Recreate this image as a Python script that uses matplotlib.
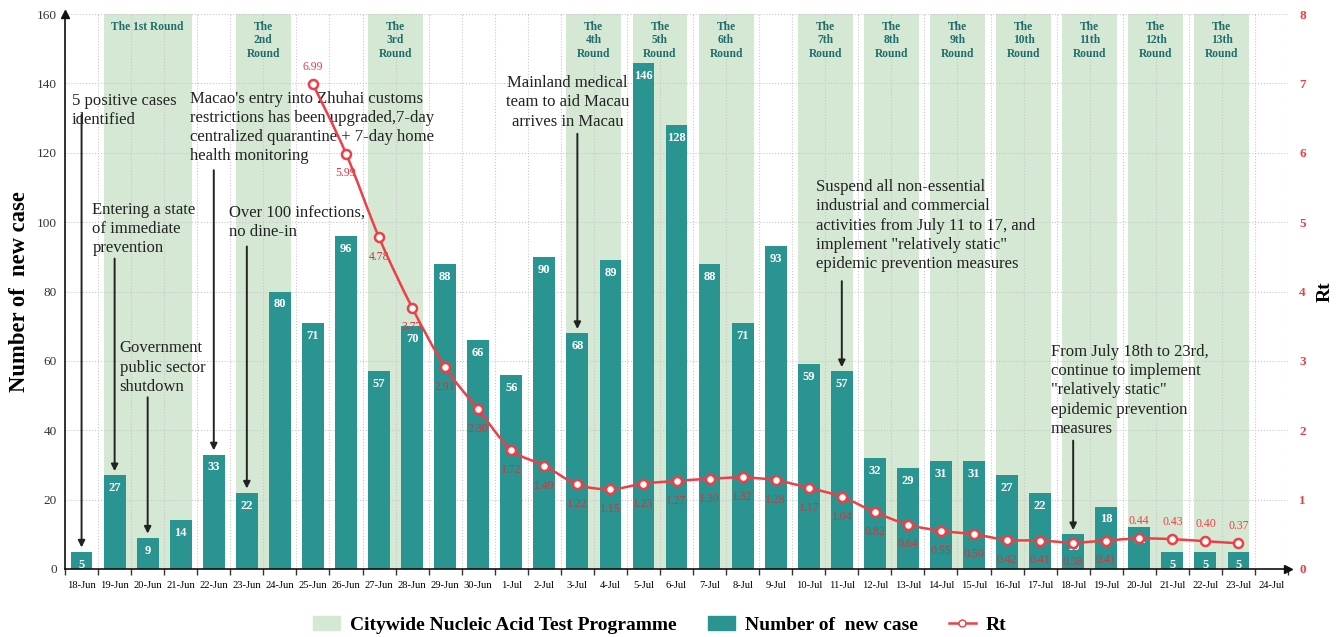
import matplotlib
matplotlib.use("Agg")
import matplotlib.pyplot as plt
import numpy as np
from matplotlib.patches import Patch, PathPatch
from matplotlib.lines import Line2D
from matplotlib.path import Path

plt.rcParams['font.family'] = ['Liberation Serif', 'DejaVu Serif']

# ---- data
dates = ['18-Jun', '19-Jun', '20-Jun', '21-Jun', '22-Jun', '23-Jun', '24-Jun', '25-Jun',
         '26-Jun', '27-Jun', '28-Jun', '29-Jun', '30-Jun', '1-Jul', '2-Jul', '3-Jul',
         '4-Jul', '5-Jul', '6-Jul', '7-Jul', '8-Jul', '9-Jul', '10-Jul', '11-Jul',
         '12-Jul', '13-Jul', '14-Jul', '15-Jul', '16-Jul', '17-Jul', '18-Jul', '19-Jul',
         '20-Jul', '21-Jul', '22-Jul', '23-Jul', '24-Jul']
new_cases = [5, 27, 9, 14, 33, 22, 80, 71, 96, 57, 70, 88, 66, 56, 90, 68, 89, 146, 128,
             88, 71, 93, 59, 57, 32, 29, 31, 31, 27, 22, 10, 18, 12, 5, 5, 5]
rt_dates = dates[7:36]
rt = [6.99, 5.99, 4.78, 3.77, 2.91, 2.30, 1.72, 1.49, 1.22, 1.15, 1.23, 1.27, 1.30, 1.32,
      1.28, 1.17, 1.04, 0.82, 0.64, 0.55, 0.50, 0.42, 0.41, 0.38, 0.41, 0.44, 0.43, 0.40, 0.37]
rt_above = ['25-Jun', '20-Jul', '21-Jul', '22-Jul', '23-Jul']

rounds = [('The 1st Round', '19-Jun', '21-Jun'),
          ('The\n2nd\nRound', '23-Jun', '24-Jun'),
          ('The\n3rd\nRound', '27-Jun', '28-Jun'),
          ('The\n4th\nRound', '3-Jul', '4-Jul'),
          ('The\n5th\nRound', '5-Jul', '6-Jul'),
          ('The\n6th\nRound', '7-Jul', '8-Jul'),
          ('The\n7th\nRound', '10-Jul', '11-Jul'),
          ('The\n8th\nRound', '12-Jul', '13-Jul'),
          ('The\n9th\nRound', '14-Jul', '15-Jul'),
          ('The\n10th\nRound', '16-Jul', '17-Jul'),
          ('The\n11th\nRound', '18-Jul', '19-Jul'),
          ('The\n12th\nRound', '20-Jul', '21-Jul'),
          ('The\n13th\nRound', '22-Jul', '23-Jul')]

# (text, target date, arrow start value, text x offset, text top value, alignment)
events = [
    ("5 positive cases\nidentified", '18-Jun', 131, -0.3, 137.4, 'left'),
    ("Macao's entry into Zhuhai customs\nrestrictions has been upgraded,7-day\n"
     "centralized quarantine + 7-day home\nhealth monitoring", '22-Jun', 115, -0.72, 137.9, 'left'),
    ("Entering a state\nof immediate\nprevention", '19-Jun', 89.5, -0.67, 105.9, 'left'),
    ("Government\npublic sector\nshutdown", '20-Jun', 49.5, -0.85, 65.9, 'left'),
    ("Over 100 infections,\nno dine-in", '23-Jun', 93, -0.55, 104.9, 'left'),
    ("Mainland medical\nteam to aid Macau\narrives in Macau", '3-Jul', 125.5, -0.3, 142.4, 'center'),
    ("Suspend all non-essential\nindustrial and commercial\nactivities from July 11 to 17, and\n"
     "implement \"relatively static\"\nepidemic prevention measures", '11-Jul', 83, -0.78, 112.4, 'left'),
    ("From July 18th to 23rd,\ncontinue to implement\n\"relatively static\"\n"
     "epidemic prevention\nmeasures", '18-Jul', 37, -0.67, 64.9, 'left'),
]

teal = '#2a9491'
green = '#d5e8d4'
red = '#ef3e46'

fig = plt.figure(figsize=(13.41, 6.37), dpi=100)
ax = fig.add_axes([0.0485, 0.1068, 0.912, 0.871])
ax2 = ax.twinx()

x = np.arange(len(dates))
pos = {d: i for i, d in enumerate(dates)}

# citywide test rounds
for label, d0, d1 in rounds:
    ax.axvspan(pos[d0] - 0.33, pos[d1] + 0.33, ymin=0, ymax=1.005, color=green, zorder=0, lw=0)
    ax.text((pos[d0] + pos[d1]) / 2, 158, label, ha='center', va='top', fontsize=8.3,
            fontweight='bold', color='#1f6e6c', linespacing=1.15, zorder=5)

bars = ax.bar(x[:len(new_cases)], new_cases, width=0.66, color=teal, zorder=2)
for xi, v in zip(x, new_cases):
    ax.text(xi, v - 2, str(v), ha='center', va='top', color='white', fontsize=9,
            fontweight='bold', zorder=3)

ax.set_xlim(-0.5, len(dates) - 0.5)
ax.set_ylim(0, 160)
ax.set_yticks(np.arange(0, 161, 20))
ax.set_xticks(x)
ax.set_xticklabels(dates, fontsize=7.6)
ax.set_xticks(np.arange(-0.5, len(dates), 1), minor=True)
ax.tick_params(axis='x', which='major', length=0, pad=9)
ax.tick_params(axis='x', which='minor', length=4, width=1, color='#333')
ax.tick_params(axis='y', length=0, labelsize=9.5, pad=6, labelcolor='#333')
ax.grid(True, axis='y', which='major', ls=':', color='#c8c8c8', lw=0.8)
ax.grid(True, axis='x', which='minor', ls=':', color='#c8c8c8', lw=0.8)
ax.set_axisbelow(True)
for s in ['top', 'right']:
    ax.spines[s].set_visible(False)
ax.spines['left'].set_color('#111')
ax.spines['bottom'].set_color('#111')
ax.spines['left'].set_linewidth(1.2)
ax.spines['bottom'].set_linewidth(1.2)
ax.plot(0, 1.0, '^', color='#111', ms=6, transform=ax.transAxes, clip_on=False)
ax.plot(1.0, 0, '>', color='#111', ms=6, transform=ax.transAxes, clip_on=False)
ax.set_ylabel('Number of  new case', fontsize=16.3, fontweight='bold', labelpad=5)

# annotations
for txt, d, y0, dx, ytop, ha in events:
    xi = pos[d]
    v = new_cases[xi]
    ax.annotate('', xy=(xi, v + 1.2), xytext=(xi, y0),
                arrowprops=dict(arrowstyle='-|>', color='#222', lw=1.4,
                                mutation_scale=10, shrinkA=0, shrinkB=0), zorder=6)
    ax.text(xi + dx, ytop, txt, ha=ha, va='top', fontsize=12, color='#222',
            linespacing=1.27, zorder=6, multialignment=ha)

# Rt line, drawn as a smooth curve through the points
rx = np.array([pos[d] for d in rt_dates], dtype=float)
ry = np.array(rt)
pts = np.column_stack([rx, ry])
ext = np.vstack([pts[0], pts, pts[-1]])
verts = [tuple(pts[0])]
codes = [Path.MOVETO]
for i in range(1, len(ext) - 2):
    p0, p1, p2, p3 = ext[i - 1], ext[i], ext[i + 1], ext[i + 2]
    c1 = p1 + (p2 - p0) / 6.0
    c2 = p2 - (p3 - p1) / 6.0
    verts += [tuple(c1), tuple(c2), tuple(p2)]
    codes += [Path.CURVE4] * 3
ax2.add_patch(PathPatch(Path(verts, codes), fill=False, edgecolor=red, lw=1.8, zorder=4))
ax2.plot(rx, ry, ls='none', marker='o', ms=6.5, mfc='white', mec=red, mew=1.8, zorder=5)
for d, xi, r in zip(rt_dates, rx, rt):
    if d in rt_above:
        ax2.text(xi, r + 0.16, f'{r:.2f}', ha='center', va='bottom', color=red, fontsize=8.5)
    else:
        ax2.text(xi, r - 0.2, f'{r:.2f}', ha='center', va='top', color='#d8323a', fontsize=8.5)
ax2.set_ylim(0, 8)
ax2.set_yticks(np.arange(0, 9, 1))
ax2.tick_params(axis='y', length=0, labelsize=9.5, labelcolor=red, pad=8)
for t in ax2.get_yticklabels():
    t.set_fontweight('bold')
for s in ['top', 'right', 'left', 'bottom']:
    ax2.spines[s].set_visible(False)
ax2.set_ylabel('Rt', fontsize=14, fontweight='bold', labelpad=8)

handles = [Patch(color=green), Patch(color=teal),
           Line2D([0], [0], color=red, lw=1.8, marker='o', ms=5, mfc='white', mec=red)]
labels = ['Citywide Nucleic Acid Test Programme', 'Number of  new case', 'Rt']
fig.legend(handles, labels, loc='lower center', bbox_to_anchor=(0.492, -0.022), ncol=3,
           frameon=False, prop={'weight': 'bold', 'size': 14}, columnspacing=1.6,
           handlelength=1.4, handletextpad=0.5)

fig.savefig('out.png', dpi=100)
